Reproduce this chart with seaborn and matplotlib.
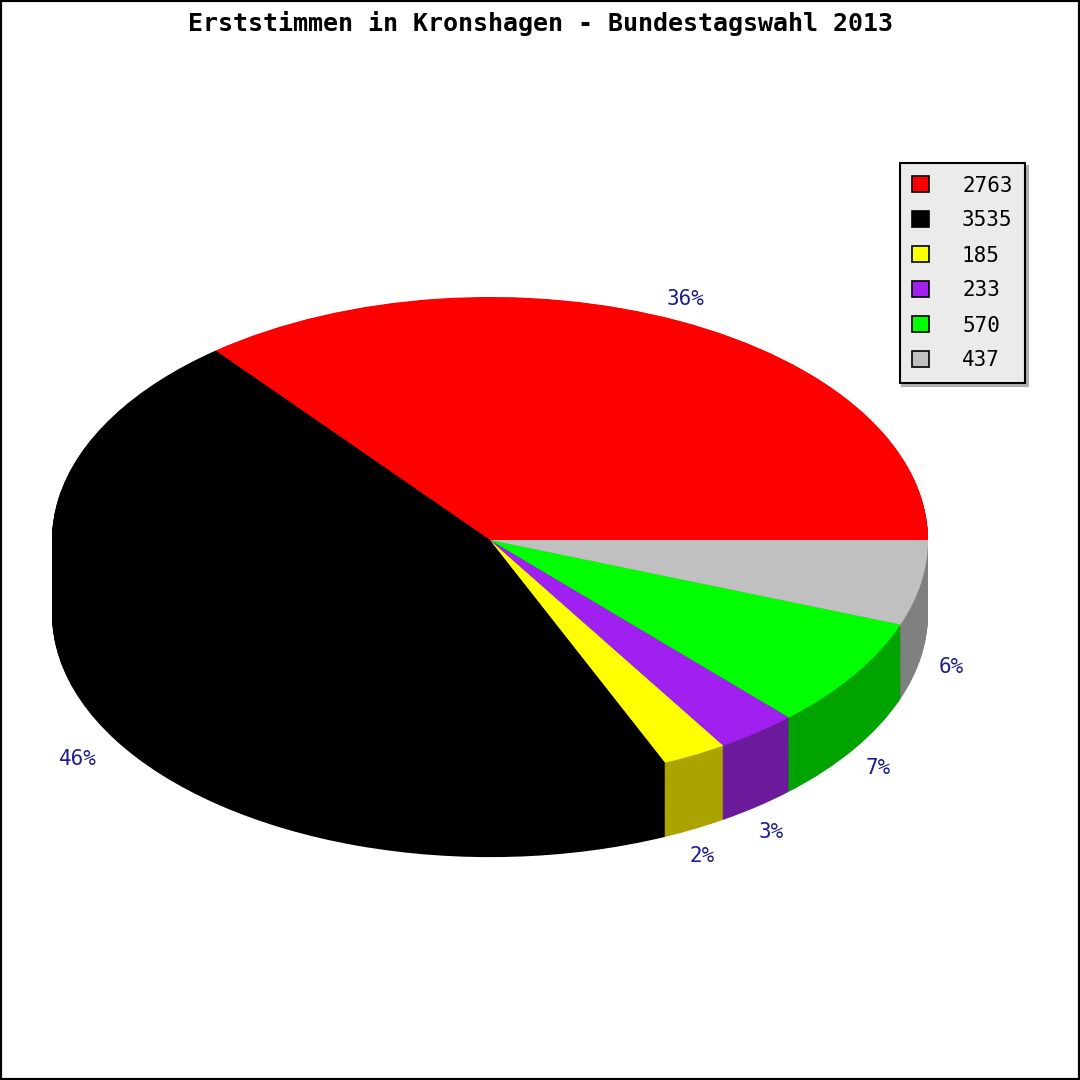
import numpy as np
import matplotlib
matplotlib.use("Agg")
import matplotlib.pyplot as plt
import seaborn as sns
from matplotlib.patches import Rectangle

# Erststimmen Kronshagen 2013
stimmen = [2763, 3535, 185, 233, 570, 437]
legend_labels = ['2763', '3535', '185', '233', '570', '437']
farben = ['#ff0000', '#000000', '#ffff00', '#a020f0', '#00ff00', '#c0c0c0']
farben_seite = ['#b00000', '#000000', '#aaa300', '#6a1a9a', '#00a300', '#808080']
titel = 'Erststimmen in Kronshagen - Bundestagswahl 2013'

sns.set_theme(style='white')
plt.rcParams['font.family'] = ['DejaVu Sans Mono', 'DejaVu Sans']
plt.rcParams['text.color'] = 'black'

fig = plt.figure(figsize=(10.8, 10.8), dpi=100)
ax = fig.add_axes([0, 0, 1, 1])

tiefe = 0.305  # Höhe der Seitenwand (in Radien)

# Seitenwand: viele dunklere Tortenschichten übereinander
for off in np.linspace(-tiefe, -0.002, 90):
    ax.pie(stimmen, colors=farben_seite, startangle=0, center=(0, off),
           wedgeprops={'linewidth': 0})

# Deckfläche
wedges, texts, autotexts = ax.pie(stimmen, colors=farben, startangle=0,
                                  autopct='%.0f%%', pctdistance=1.1,
                                  wedgeprops={'linewidth': 0},
                                  textprops={'fontsize': 15, 'color': '#1c1c8c'})

# Prozentlabels der unteren Hälfte unter die Seitenwand schieben
for t in autotexts:
    x, y = t.get_position()
    if y < 0:
        y = y - tiefe - 0.025
    if x > 0:
        x = x - 0.03
    t.set_position((x, y))

# Ellipse: x-Radius 438px, y-Radius 243px, Mitte bei (490, 540)
ax.set_aspect('auto')
ax.set_xlim(-490 / 438, (1080 - 490) / 438)
ax.set_ylim(-540 / 243, 540 / 243)
ax.axis('off')

leg = ax.legend(wedges, legend_labels, loc='upper right',
                bbox_to_anchor=(1025 / 1080, 1 - 163 / 1080),
                bbox_transform=fig.transFigure, borderaxespad=0,
                frameon=True, fancybox=False, shadow={'color': '#b0b0b0', 'alpha': 1},
                edgecolor='black', facecolor='#ebebeb', framealpha=1,
                fontsize=15, handlelength=0.8, handleheight=0.8,
                labelspacing=0.72, borderpad=0.6, handletextpad=1.6)
leg.get_frame().set_linewidth(1.5)
for h in leg.legend_handles:
    h.set_edgecolor('black')
    h.set_linewidth(1.2)
for t in leg.get_texts():
    t.set_color('black')

fig.text(0.5, 1 - 24 / 1080, titel, ha='center', va='center',
         fontsize=18, fontweight='bold', color='black')

fig.patches.append(Rectangle((0, 0), 1, 1, transform=fig.transFigure,
                             fill=False, edgecolor='black', linewidth=3))

plt.savefig('out.png', dpi=100)
